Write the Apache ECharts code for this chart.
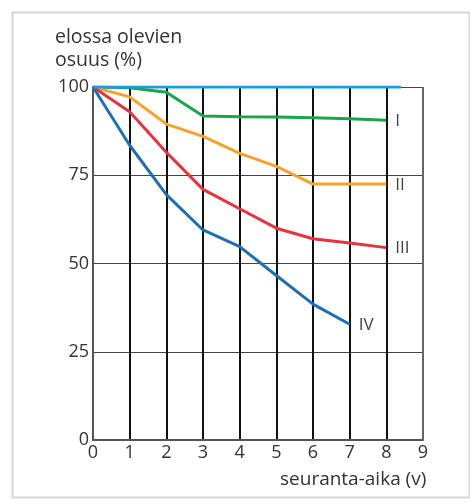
<!DOCTYPE html>
<html><head><meta charset="utf-8">
<script src="https://cdn.jsdelivr.net/npm/echarts@6/dist/echarts.min.js"></script>
<style>html,body{margin:0;padding:0;background:#fff}#c{width:470px;height:502px}</style>
</head><body><div id="c"></div>
<script>
const xTicks = [0,1,2,3,4,5,6,7,8,9];
const yTicks = [0,25,50,75,100];
const allYears = [0, 8.4];
const allValues = [100, 100];
const years = [0,1,2,3,4,5,6,7,8];
const groupI = [100, 99.8, 98.5, 91.8, 91.6, 91.5, 91.3, 91, 90.6];
const groupII = [100, 97.2, 89.5, 86, 81.2, 77.5, 72.5, 72.5, 72.5];
const groupIII = [100, 93, 81.5, 71, 65.5, 60, 57, 55.8, 54.5];
const yearsIV = [0,1,2,3,4,5,6,7];
const groupIV = [100, 83.5, 69.5, 59.5, 54.8, 46.6, 38.5, 32.8];
const labels = ['I','II','III','IV'];

const font = '"Open Sans", "Noto Sans", sans-serif';
const chart = echarts.init(document.getElementById('c'));
function mk(xs, ys, color, label, z){
  return {
    type:'line', data: xs.map((x,i)=>[x, ys[i]]), symbol:'none', smooth:false,
    lineStyle:{color, width:3}, z: z||3,
    endLabel: label ? {show:true, formatter: label, color:'#444', fontFamily:font, fontSize:17, distance:9, offset:[0,1]} : {show:false}
  };
}
chart.setOption({
  animation:false,
  grid:{left:93, right:47, top:87, bottom:62},
  xAxis:{type:'value', min:0, max:9, interval:1,
    axisLine:{lineStyle:{color:'#555', width:2}}, axisTick:{show:false},
    axisLabel:{color:'#333', fontFamily:font, fontSize:18, margin:4},
    splitLine:{show:true, lineStyle:{color:'#111', width:2}}},
  yAxis:{type:'value', min:0, max:100, interval:25,
    axisLine:{show:true, lineStyle:{color:'#555', width:2}}, axisTick:{show:false},
    axisLabel:{color:'#333', fontFamily:font, fontSize:18, margin:4},
    splitLine:{show:true, lineStyle:{color:'#444', width:1}}},
  graphic:[
    {type:'rect', left:10, top:10, shape:{width:457, height:485}, style:{fill:'none', stroke:'#d8d8d8', lineWidth:2}, z:-10},
    {type:'line', shape:{x1:423, y1:87, x2:423, y2:440}, style:{stroke:'#666', lineWidth:2}, z:1},
    {type:'text', x:55, y:37, style:{text:'elossa olevien', fontFamily:font, fontSize:19.5, fill:'#333', verticalAlign:'middle'}},
    {type:'text', x:55, y:60, style:{text:'osuus (%)', fontFamily:font, fontSize:19.5, fill:'#333', verticalAlign:'middle'}},
    {type:'text', x:280, y:480, style:{text:'seuranta-aika (v)', fontFamily:font, fontSize:19, fill:'#333', verticalAlign:'middle'}}
  ],
  series:[
    mk(allYears, allValues, '#1e9bd8', null, 6),
    mk(years, groupI, '#19a54b', labels[0]),
    mk(years, groupII, '#f7a22b', labels[1]),
    mk(years, groupIII, '#e8323e', labels[2]),
    mk(yearsIV, groupIV, '#1f6fb3', labels[3])
  ]
});
</script></body></html>
